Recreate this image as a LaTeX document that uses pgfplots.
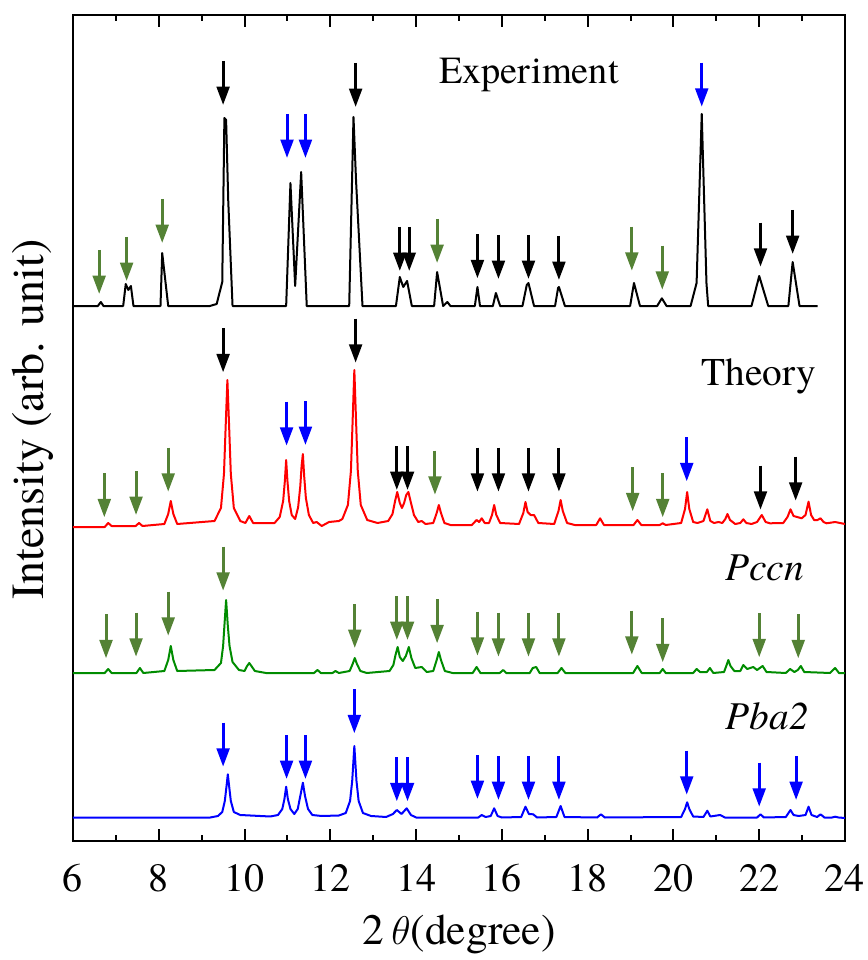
\documentclass[border=0pt]{standalone}
\usepackage{fontspec}
\setmainfont{texgyretermes-regular.otf}[BoldFont=texgyretermes-bold.otf, ItalicFont=texgyretermes-italic.otf, BoldItalicFont=texgyretermes-bolditalic.otf]
\usepackage{pgfplots}
\pgfplotsset{compat=1.18}
\usetikzlibrary{arrows.meta}

\definecolor{arrgreen}{RGB}{84,130,53}
\definecolor{pccngreen}{RGB}{0,140,0}

\begin{document}
\begin{tikzpicture}
\begin{axis}[
    name=ax,
    width=231.6pt, height=247.8pt, scale only axis,
    xmin=6, xmax=24, ymin=0, ymax=826,
    xtick={6,8,...,24}, minor x tick num=1, ytick=\empty,
    tick align=inside,
    major tick length=3.6pt, minor tick length=1.8pt,
    every tick/.style={black, line width=0.6pt},
    axis line style={line width=0.75pt},
    /pgf/number format/assume math mode=true,
    xticklabel style={font=\fontsize{12}{14}\selectfont, yshift=-3.5pt},
    xlabel={2\,$\theta$(degree)},
    xlabel style={font=\fontsize{13}{16}\selectfont},
    ylabel={Intensity (arb. unit)},
    ylabel style={font=\fontsize{13.8}{17}\selectfont, at={(axis description cs:-0.052,0.51)}, anchor=center},
    every axis plot/.append style={line join=round},
]

% Experiment
\addplot[black, line width=0.6pt] coordinates {
(6.0,535) (6.58,535) (6.65,539) (6.71,535) (7.17,535) (7.23,557) (7.29,551) (7.35,555) (7.41,535)
(8.04,535) (8.08,588) (8.22,535) (9.19,535) (9.35,537) (9.48,559) (9.53,723) (9.57,721) (9.62,640) (9.72,535)
(10.97,535) (11.07,658) (11.18,555) (11.32,669) (11.45,535) (12.44,535) (12.54,724) (12.60,660) (12.75,535)
(13.53,535) (13.62,564) (13.70,554) (13.79,560) (13.90,535) (14.42,535) (14.49,569) (14.63,535) (14.73,539) (14.80,535)
(15.37,535) (15.43,554) (15.49,535) (15.79,535) (15.86,548) (15.96,535) (16.48,535) (16.58,556) (16.62,558) (16.75,535)
(17.24,535) (17.31,553) (17.33,554) (17.47,535) (18.99,535) (19.08,558) (19.22,535) (19.62,535) (19.73,542.7) (19.84,535)
(20.40,535) (20.54,558) (20.66,727) (20.77,558) (20.81,535) (21.82,535) (22.00,565) (22.21,535)
(22.68,535) (22.78,579) (22.94,535) (23.36,535)
};

% Theory
\addplot[red, line width=0.6pt] coordinates {
(6.0,314) (6.74,314) (6.82,318) (6.90,315) (7.46,315) (7.54,318) (7.62,315)
(8.13,317) (8.22,327) (8.28,340) (8.34,327) (8.43,317)
(9.30,320) (9.45,333) (9.52,367) (9.56,415) (9.60,461) (9.64,415) (9.68,367) (9.75,333) (9.90,320)
(10.02,318) (10.11,325) (10.20,318) (10.70,318) (10.82,324) (10.90,340) (10.94,360) (10.97,381) (11.00,360) (11.04,340) (11.10,326) (11.18,322)
(11.25,334) (11.30,355) (11.33,375) (11.36,387) (11.39,365) (11.43,343) (11.50,326) (11.60,318) (11.68,319) (11.80,315) (11.97,319) (12.20,320)
(12.28,322) (12.41,336) (12.48,370) (12.52,420) (12.56,471) (12.60,420) (12.64,370) (12.71,336) (12.86,321) (13.10,318)
(13.35,320) (13.45,327) (13.51,340) (13.56,349) (13.62,338) (13.67,333) (13.72,338) (13.77,346) (13.82,349) (13.87,340) (13.95,326) (14.05,319) (14.13,320) (14.22,317)
(14.40,318) (14.48,328) (14.53,336) (14.58,328) (14.66,318) (14.80,316)
(15.30,316) (15.41,321) (15.47,319) (15.53,322.7) (15.60,318) (15.70,318) (15.77,326) (15.82,336) (15.87,326) (15.96,318)
(16.40,317) (16.50,328) (16.55,339) (16.60,329) (16.67,326) (16.75,326) (16.85,318) (17.22,317) (17.32,330) (17.37,341) (17.42,330) (17.52,318) (17.70,316)
(18.20,316) (18.29,322.7) (18.38,316) (19.07,316) (19.16,321) (19.25,316) (19.68,316) (19.75,317.7) (19.82,316)
(20.18,318) (20.27,332) (20.32,349) (20.37,332) (20.46,319) (20.56,318) (20.70,320) (20.79,331.7) (20.86,320) (20.95,318)
(21.05,319) (21.14,318) (21.21,322) (21.26,327) (21.32,321) (21.44,317) (21.56,318) (21.63,321.7) (21.70,318) (21.82,317)
(21.95,319) (22.06,326) (22.15,319) (22.25,317.7) (22.56,318) (22.66,324) (22.73,331.7) (22.80,325) (22.86,324.3) (22.99,322.7)
(23.08,326) (23.15,339.3) (23.21,326) (23.28,321) (23.36,321) (23.43,322.7) (23.50,319) (23.57,317.7) (23.77,319) (24,317)
};

% Pccn
\addplot[pccngreen, line width=0.6pt] coordinates {
(6.0,168) (6.74,168) (6.82,172) (6.90,168) (7.48,168) (7.56,173) (7.64,168)
(8.13,170) (8.22,181) (8.28,195) (8.34,181) (8.43,170)
(9.30,171) (9.45,178) (9.50,195) (9.53,215) (9.57,241) (9.61,215) (9.65,195) (9.72,179) (9.87,171)
(10.00,170) (10.06,175) (10.11,178) (10.16,175) (10.24,170) (10.50,168) (11.62,168) (11.70,171) (11.78,168) (12.05,168) (12.12,170) (12.20,168)
(12.45,170) (12.52,177) (12.57,183) (12.62,177) (12.70,170) (12.85,168)
(13.38,170) (13.47,176) (13.52,186) (13.57,194) (13.62,184) (13.69,180) (13.76,185) (13.83,194) (13.89,183) (13.98,173) (14.13,174) (14.25,169)
(14.40,170) (14.48,181) (14.53,189) (14.58,181) (14.67,170) (14.85,168)
(15.32,168) (15.41,174) (15.50,168) (15.95,168) (16.03,171) (16.10,168) (16.65,168) (16.72,173) (16.80,174) (16.88,168) (17.30,168) (17.39,173) (17.48,168)
(19.06,168) (19.16,175) (19.26,168) (19.68,168) (19.75,172) (19.82,168) (20.46,168) (20.54,172) (20.62,169) (20.78,169) (20.85,173) (20.93,168)
(21.18,169) (21.24,176) (21.28,181) (21.33,175) (21.42,170) (21.56,170) (21.63,176) (21.72,172) (21.86,174) (21.95,171) (22.08,175) (22.17,169)
(22.62,168) (22.72,172) (22.82,169) (22.90,171) (22.97,175) (23.05,169) (23.65,168) (23.77,173) (23.86,168) (24,168)
};

% Pba2
\addplot[blue, line width=0.6pt] coordinates {
(6.0,23.5) (9.20,23.5) (9.38,25) (9.48,29) (9.54,40) (9.58,55) (9.61,66.7) (9.64,55) (9.68,40) (9.75,29) (9.90,26)
(10.60,24.5) (10.78,26) (10.88,32) (10.93,42) (10.97,54.3) (11.01,42) (11.07,32) (11.16,27) (11.24,32) (11.30,45) (11.36,58.3) (11.41,45) (11.48,32) (11.58,26)
(11.80,25) (12.20,25.5) (12.36,28) (12.46,40) (12.51,60) (12.56,95) (12.61,60) (12.66,40) (12.76,28) (12.95,25)
(13.30,24) (13.46,27) (13.55,31) (13.66,27) (13.78,32.7) (13.88,26) (14.00,23.5)
(15.45,23.5) (15.53,26) (15.62,24) (15.74,25) (15.82,32.7) (15.90,25) (16.00,23.5) (16.45,24) (16.55,34.3) (16.63,27) (16.73,26.7) (16.82,23.5)
(17.27,24) (17.37,35) (17.46,24) (18.22,23.5) (18.31,26.7) (18.40,23.5) (20.18,24) (20.27,32) (20.32,38.7) (20.37,32) (20.46,24.5)
(20.70,24) (20.79,30.3) (20.86,24.5) (21.09,26) (21.20,23.5) (21.95,23.5) (22.03,26.7) (22.11,23.5)
(22.62,24) (22.73,31) (22.80,26) (22.92,25) (23.08,26) (23.15,34.3) (23.22,26) (23.35,24) (23.43,26.7) (23.52,23.5) (23.70,23.5) (23.77,24.3) (23.85,23.5) (24,23)
};

% peak arrows (tail points, 44 units long)
\addplot[black, quiver={u=0,v=-44}, -{Triangle[width=3.8pt,length=5.5pt]}, line width=0.9pt] table {
x y
9.50 780
12.59 778
13.62 614
13.84 614
15.43 606.7
15.92 606
16.62 606
17.33 605
22.03 618.3
22.78 631
9.50 512.7
12.59 522.3
13.55 395
13.80 395
15.43 393.3
15.92 393.3
16.62 393.3
17.33 393.3
22.03 375.3
22.85 384.3
};
\addplot[blue, quiver={u=0,v=-44}, -{Triangle[width=3.8pt,length=5.5pt]}, line width=0.9pt] table {
x y
10.99 727
11.42 727
20.66 778.3
10.98 439.3
11.42 440
20.31 403.7
9.50 118.3
10.98 106
11.42 106
12.56 151.7
13.55 83.7
13.80 83.7
15.43 86
15.92 85
16.62 85
17.33 85
20.31 90.3
22.00 78.3
22.86 85
};
\addplot[arrgreen, quiver={u=0,v=-44}, -{Triangle[width=3.8pt,length=5.5pt]}, line width=0.9pt] table {
x y
6.61 591
7.25 604
8.08 642
14.49 622
19.03 614.3
19.74 595.3
6.73 367.7
7.47 370
8.22 393.3
14.44 390.3
19.05 373.7
19.75 367.7
6.77 226.7
7.47 228.3
8.22 249.3
9.50 294.3
12.57 237
13.55 245
13.80 245
14.49 241.7
15.43 229.3
15.92 228.3
16.62 228.3
17.33 228.3
19.03 230.3
19.75 222.7
22.00 227.7
22.91 226.7
};

\node[anchor=base, font=\fontsize{11.5}{14}\selectfont] at (axis cs:16.63,757.7) {Experiment};
\node[anchor=base, font=\fontsize{11.8}{14}\selectfont] at (axis cs:21.99,456) {Theory};
\node[anchor=base, font=\fontsize{11.8}{14}\selectfont\itshape] at (axis cs:22.13,261) {Pccn};
\node[anchor=base, font=\fontsize{11.8}{14}\selectfont\itshape] at (axis cs:22.19,111.7) {Pba2};
\end{axis}
\pgfresetboundingbox
\path ([shift={(-21.9pt,-35.7pt)}]ax.south west) rectangle ([shift={(6.9pt,4.5pt)}]ax.north east);
\end{tikzpicture}
\end{document}
